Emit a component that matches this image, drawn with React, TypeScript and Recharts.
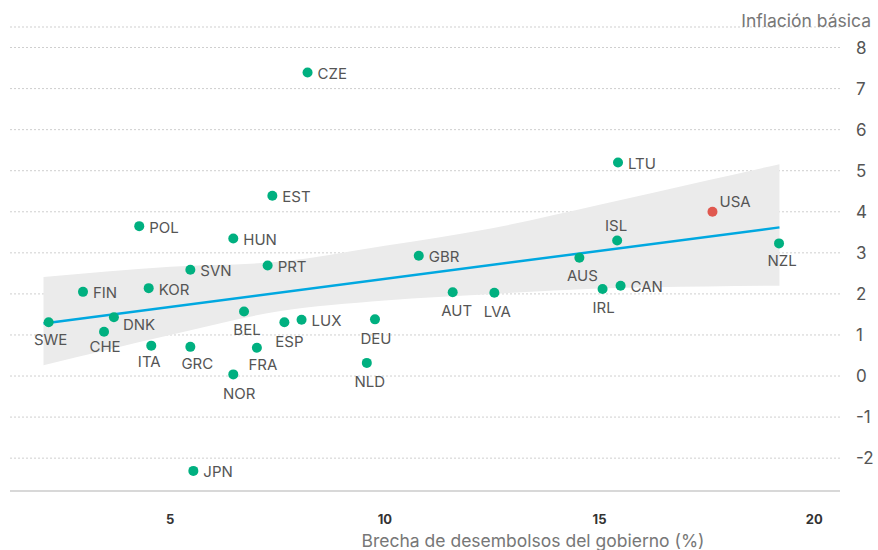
import {
  Area,
  CartesianGrid,
  ComposedChart,
  Line,
  Scatter,
  XAxis,
  YAxis,
} from "recharts";

// country codes, spending gap (%) and core inflation
const countries = [
  "SWE", "FIN", "CHE", "DNK", "POL", "KOR", "ITA", "GRC", "SVN", "JPN", "HUN",
  "NOR", "BEL", "FRA", "PRT", "EST", "ESP", "LUX", "CZE", "NLD", "DEU", "GBR",
  "AUT", "LVA", "AUS", "IRL", "ISL", "LTU", "CAN", "USA", "NZL",
];
const gapValues = [
  2.17, 2.97, 3.46, 3.69, 4.28, 4.5, 4.56, 5.47, 5.47, 5.54, 6.47,
  6.47, 6.72, 7.02, 7.27, 7.38, 7.66, 8.06, 8.2, 9.58, 9.77, 10.79,
  11.58, 12.55, 14.53, 15.07, 15.41, 15.43, 15.49, 17.63, 19.18,
];
const inflationValues = [
  1.31, 2.05, 1.08, 1.43, 3.65, 2.14, 0.74, 0.71, 2.59, -2.31, 3.35,
  0.04, 1.57, 0.69, 2.69, 4.39, 1.31, 1.37, 7.39, 0.32, 1.38, 2.93,
  2.04, 2.03, 2.88, 2.12, 3.3, 5.2, 2.2, 4.0, 3.23,
];
const highlighted = "USA";

// fitted line and its band
const fitX = [2.05, 19.19];
const fitY = [1.28, 3.62];
const bandX = [2.05, 5, 7.5, 10, 12.5, 15, 17.5, 19.19];
const bandLow = [0.26, 1.0, 1.57, 1.84, 2.0, 2.13, 2.18, 2.2];
const bandHigh = [2.41, 2.66, 2.78, 3.17, 3.6, 4.17, 4.76, 5.16];

const xTicks = [5, 10, 15, 20];
const yTicks = [-2, -1, 0, 1, 2, 3, 4, 5, 6, 7, 8];

const points = countries.map((c, i) => ({
  name: c,
  x: gapValues[i],
  y: inflationValues[i],
}));
const bandData = bandX.map((x, i) => ({ x, range: [bandLow[i], bandHigh[i]] }));
const fitData = fitX.map((x, i) => ({ x, y: fitY[i] }));

// label offsets from the dot: dx, dy, anchor
const R: [number, number, string] = [10, 1, "start"];
const labelPos: Record<string, [number, number, string]> = {
  CZE: R, EST: R, POL: R, HUN: R, SVN: R, PRT: R, GBR: R, LTU: R,
  FIN: R, KOR: R, LUX: R, JPN: R, CAN: R,
  DNK: [9, 7, "start"],
  SWE: [2, 17, "middle"],
  CHE: [1, 15, "middle"],
  ITA: [-2, 16, "middle"],
  GRC: [7, 17, "middle"],
  BEL: [3, 18, "middle"],
  FRA: [6, 17, "middle"],
  ESP: [5, 19, "middle"],
  NOR: [6, 19, "middle"],
  NLD: [3, 19, "middle"],
  DEU: [1, 19, "middle"],
  AUT: [4, 18, "middle"],
  LVA: [3, 19, "middle"],
  IRL: [1, 19, "middle"],
  AUS: [3, 18, "middle"],
  NZL: [3, 17, "middle"],
  ISL: [-1, -15, "middle"],
  USA: [7, -10, "start"],
};

const font = "Inter, 'Noto Sans', sans-serif";

const CountryDot = (props: any) => {
  const { cx, cy, payload } = props;
  const [dx, dy, anchor] = labelPos[payload.name] ?? R;
  return (
    <g>
      <circle
        cx={cx}
        cy={cy}
        r={5}
        fill={payload.name === highlighted ? "#e0584f" : "#00b080"}
      />
      <text
        x={cx + dx}
        y={cy + dy}
        textAnchor={anchor as any}
        dominantBaseline="central"
        fontSize={15}
        fontFamily={font}
        fill="#555"
      >
        {payload.name}
      </text>
    </g>
  );
};

const XTick = ({ x, y, payload }: any) => (
  <text
    x={x}
    y={y + 28}
    textAnchor="middle"
    dominantBaseline="central"
    fontSize={13}
    fontWeight={700}
    fontFamily={font}
    fill="#333"
  >
    {payload.value}
  </text>
);

const YTick = ({ x, y, payload }: any) => (
  <text
    x={x + 16}
    y={y}
    textAnchor="start"
    dominantBaseline="central"
    fontSize={17}
    fontFamily={font}
    fill="#555"
  >
    {payload.value}
  </text>
);

export default function App() {
  return (
    <div style={{ position: "relative", width: 878, height: 550 }}>
      <style>{"body{margin:0}"}</style>
      <ComposedChart
        width={878}
        height={550}
        margin={{ top: 27, right: 0, bottom: 0, left: 10 }}
      >
        <CartesianGrid
          vertical={false}
          stroke="#cfcfcf"
          strokeDasharray="2 2"
        />
        <XAxis
          type="number"
          dataKey="x"
          domain={[1.27, 20.6]}
          ticks={xTicks}
          allowDataOverflow
          height={59}
          tickLine={false}
          tickSize={0}
          tickMargin={0}
          axisLine={{ stroke: "#d8d8d8", strokeWidth: 2 }}
          tick={<XTick />}
        />
        <YAxis
          type="number"
          orientation="right"
          domain={[-2.8, 8.5]}
          ticks={yTicks}
          allowDataOverflow
          width={38}
          axisLine={false}
          tickLine={false}
          tickSize={0}
          tickMargin={0}
          tick={<YTick />}
        />
        <Area
          data={bandData}
          dataKey="range"
          type="monotone"
          stroke="none"
          fill="#ebebeb"
          fillOpacity={1}
          isAnimationActive={false}
        />
        <Line
          data={fitData}
          dataKey="y"
          stroke="#00a8e0"
          strokeWidth={2.5}
          dot={false}
          activeDot={false}
          isAnimationActive={false}
        />
        <Scatter
          data={points}
          dataKey="y"
          shape={<CountryDot />}
          isAnimationActive={false}
        />
      </ComposedChart>
      <div
        style={{
          position: "absolute",
          right: 7,
          top: 10,
          fontFamily: font,
          fontSize: 17.5,
          color: "#777",
          whiteSpace: "nowrap",
        }}
      >
        Inflación básica
      </div>
      <div
        style={{
          position: "absolute",
          left: 0,
          width: 1066,
          top: 530,
          textAlign: "center",
          fontFamily: font,
          fontSize: 17.5,
          color: "#777",
          whiteSpace: "nowrap",
        }}
      >
        Brecha de desembolsos del gobierno (%)
      </div>
    </div>
  );
}
